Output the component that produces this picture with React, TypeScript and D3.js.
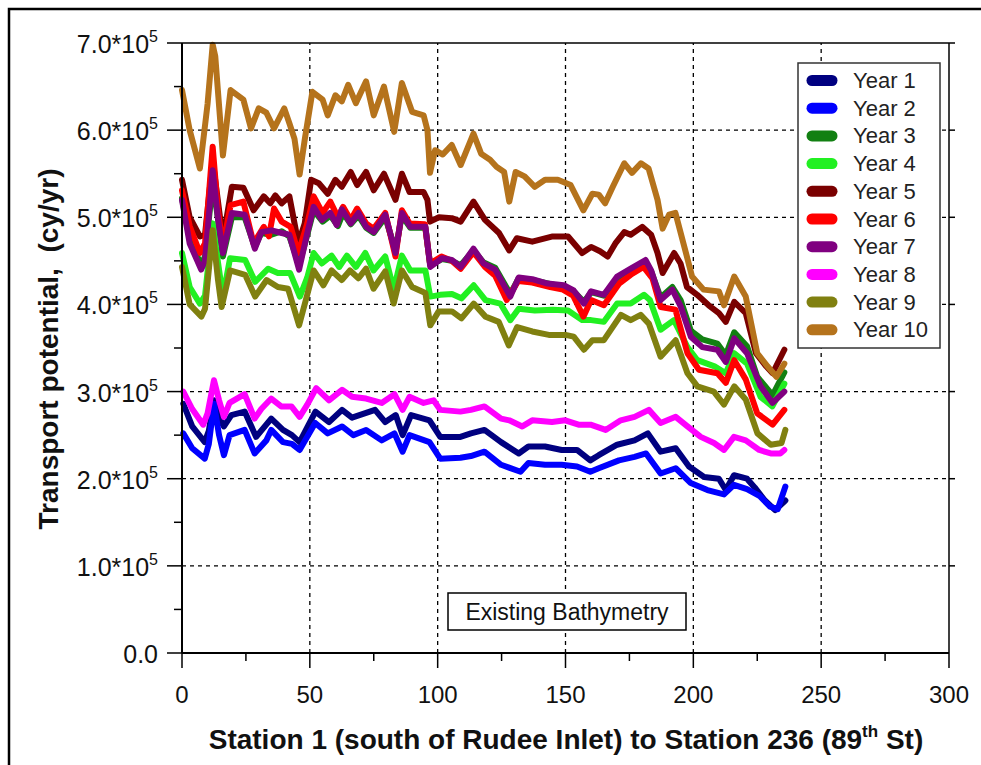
import React from "react";
import * as d3 from "d3";

const seriesNames = ["Year 1", "Year 2", "Year 3", "Year 4", "Year 5", "Year 6", "Year 7", "Year 8", "Year 9", "Year 10"];
const seriesColors = ["#000080", "#0000ff", "#128012", "#22f022", "#7a0000", "#ff0000", "#800080", "#ff00ff", "#808010", "#b5731c"];

const xTicks = [0, 50, 100, 150, 200, 250, 300];
const xMinorTicks = [25, 75, 125, 175, 225, 275];
const yTicks = [0, 1, 2, 3, 4, 5, 6, 7];
const yMinorTicks = [0.5, 1.5, 2.5, 3.5, 4.5, 5.5, 6.5];
const yTickLabels = ["0.0", "1.0*10", "2.0*10", "3.0*10", "4.0*10", "5.0*10", "6.0*10", "7.0*10"];

// values in units of 10^5 cy/yr, [station, value]
const year1: [number, number][] = [[0.5,2.86],[4,2.6],[8.9,2.42],[10.5,2.55],[12.5,2.9],[14.5,2.7],[16.4,2.6],[19.3,2.73],[24.5,2.77],[29,2.48],[34.9,2.69],[39.5,2.56],[43,2.5],[46,2.42],[52.2,2.77],[57.5,2.65],[62.6,2.79],[66.5,2.7],[75.5,2.79],[79.5,2.65],[83.6,2.73],[86.3,2.5],[89.6,2.73],[96.8,2.67],[101,2.48],[108.9,2.48],[113,2.52],[118.3,2.56],[124.8,2.42],[131.7,2.29],[135.5,2.37],[142,2.37],[148.5,2.33],[154.5,2.33],[159.7,2.21],[163,2.27],[170.2,2.39],[177,2.44],[182.2,2.52],[187.2,2.31],[193.1,2.35],[198.3,2.14],[204.2,2.02],[210,2.0],[212.7,1.87],[215.9,2.04],[221,2.0],[224,1.9],[228,1.75],[232,1.64],[236,1.75]];
const year2: [number, number][] = [[0.5,2.52],[4,2.35],[8.9,2.23],[10.5,2.4],[12.5,2.86],[14.5,2.5],[16.4,2.27],[18.6,2.5],[24.5,2.56],[28.4,2.29],[33,2.44],[34.9,2.56],[39.5,2.42],[43,2.4],[46,2.33],[52.1,2.64],[57,2.52],[62.6,2.6],[67,2.5],[72,2.56],[78.1,2.44],[83.1,2.52],[86.3,2.31],[89,2.5],[96.8,2.42],[101,2.23],[108.9,2.24],[113,2.26],[118.3,2.31],[124.8,2.16],[132.4,2.08],[135.5,2.18],[142,2.16],[148.5,2.16],[154.5,2.14],[159.7,2.08],[163,2.12],[170.9,2.21],[177,2.25],[181.5,2.29],[187.2,2.06],[193.1,2.12],[199,1.95],[205.5,1.87],[212,1.82],[215.9,1.93],[221,1.88],[226,1.8],[230,1.68],[233,1.65],[236,1.91]];
const year3: [number, number][] = [[0,5.22],[3,4.75],[7.5,4.45],[9,4.55],[12,5.4],[14,5.0],[16,4.55],[19.5,5.0],[24.5,5.0],[28.5,4.66],[31,4.82],[35,4.8],[39,4.84],[42,4.78],[45.8,4.45],[49,4.8],[51.5,5.08],[55,4.95],[58,5.02],[61,4.9],[63,5.05],[66,4.92],[69,5.02],[72,4.88],[75,4.82],[79.5,5.0],[83.5,4.62],[86,5.02],[89.3,4.88],[95.2,4.88],[97.1,4.45],[101.7,4.52],[105.5,4.5],[109,4.45],[114,4.62],[118,4.48],[122.5,4.42],[128.4,4.12],[131.7,4.3],[137,4.28],[143,4.24],[149.3,4.2],[153.2,4.15],[157.2,4.03],[160,4.14],[165,4.1],[170.2,4.3],[175.5,4.38],[181.3,4.48],[183.5,4.38],[187.2,4.08],[191.8,4.2],[195,4.05],[199,3.7],[203.5,3.6],[209.4,3.55],[212.7,3.42],[216,3.68],[221,3.52],[225,3.17],[231,2.96],[235.6,3.22]];
const year4: [number, number][] = [[0,4.59],[3,4.2],[7,4.01],[9,4.1],[12,4.93],[14,4.5],[16,4.09],[18.8,4.53],[24.7,4.51],[28.6,4.26],[33.7,4.41],[37.5,4.36],[42.3,4.36],[46.1,4.09],[49,4.31],[51.5,4.59],[54.7,4.47],[58.5,4.56],[61.5,4.43],[64.5,4.56],[68,4.43],[71.7,4.59],[74.9,4.39],[79.5,4.55],[82.8,4.17],[86,4.56],[89.3,4.39],[95.2,4.39],[97.1,4.09],[101,4.11],[105.6,4.12],[109.3,4.07],[114.1,4.22],[118.7,4.05],[124.5,4.01],[128.4,3.82],[131.7,3.95],[138,3.93],[145,3.94],[151,3.93],[156.5,3.82],[160,3.82],[165,3.8],[170.2,4.01],[175.5,4.01],[180.7,4.11],[183,4.05],[187.2,3.71],[192.4,3.82],[197.7,3.51],[201.6,3.36],[208.3,3.29],[212.7,3.21],[216,3.44],[221,3.32],[226.3,2.94],[230.9,2.83],[235.6,3.09]];
const year5: [number, number][] = [[0,5.43],[3,5.0],[7,4.78],[9,4.8],[12,5.65],[14,5.2],[16,4.74],[19.5,5.35],[24,5.34],[28,5.08],[32,5.24],[34.5,5.16],[36.5,5.25],[39,5.16],[42,5.24],[45.5,4.7],[48,4.93],[50.5,5.43],[53.5,5.39],[57,5.27],[60,5.43],[62.5,5.35],[66,5.52],[68.5,5.37],[72,5.52],[75,5.31],[79,5.5],[83.5,5.2],[86,5.5],[89,5.29],[94.5,5.29],[96,5.2],[97,4.95],[100.5,5.0],[105.5,4.99],[109,4.95],[114,5.18],[118.5,4.97],[124,4.82],[128,4.62],[131,4.76],[137,4.72],[145,4.78],[151,4.78],[156.5,4.59],[160,4.66],[163.5,4.61],[166.5,4.55],[169.5,4.7],[173,4.83],[175.5,4.8],[180,4.89],[183.5,4.8],[186,4.59],[188,4.36],[192.5,4.59],[195,4.47],[197.5,4.2],[201.5,4.11],[206,3.99],[210,3.9],[212.7,3.8],[216,4.03],[220.5,3.9],[224.5,3.44],[228.5,3.29],[231,3.21],[235.6,3.48]];
const year6: [number, number][] = [[0,5.31],[3,4.9],[7,4.59],[9,4.7],[12,5.81],[14,5.1],[16,4.66],[19,5.14],[24,5.18],[28,4.7],[32,4.89],[34,4.78],[36,5.1],[39,4.95],[42.5,4.89],[45.5,4.59],[49,4.93],[51.5,5.24],[55,5.05],[58,5.18],[61,5.0],[63,5.12],[66,4.97],[68.5,5.1],[72,4.93],[75,4.87],[79.5,5.05],[83.5,4.55],[86,5.08],[89,4.93],[95,4.92],[97,4.47],[101.5,4.55],[105.5,4.5],[109,4.41],[114,4.6],[118.5,4.43],[122.5,4.33],[127,4.05],[131.5,4.27],[137,4.25],[144,4.2],[149,4.17],[153,4.1],[157,3.86],[160,4.05],[165,3.99],[171,4.24],[175.5,4.34],[180.5,4.43],[184,4.3],[187.2,3.97],[193,3.94],[197.7,3.44],[202.2,3.25],[209.4,3.21],[212.7,3.1],[216,3.36],[220.5,3.14],[225,2.75],[231,2.62],[235.6,2.79]];
const year7: [number, number][] = [[0,5.2],[3,4.7],[7.5,4.4],[9,4.5],[12,5.54],[14,5.0],[16,4.59],[19.5,5.05],[24.5,5.03],[28.5,4.64],[31,4.83],[35,4.85],[39,4.82],[42,4.8],[45.8,4.4],[49,4.82],[51.5,5.12],[54.7,4.97],[58,5.05],[60.5,4.91],[62.5,5.09],[66,4.93],[69,5.05],[72,4.89],[75,4.83],[79.5,5.03],[83.5,4.59],[86,5.05],[89.3,4.89],[95.2,4.89],[97.1,4.43],[101.7,4.53],[105.5,4.51],[109,4.43],[114,4.64],[118,4.47],[122.5,4.4],[128.4,4.09],[131.7,4.31],[137,4.29],[143,4.24],[149.3,4.22],[153.2,4.16],[157.2,4.01],[160,4.15],[165,4.11],[170.2,4.32],[175.5,4.41],[181.3,4.51],[183.5,4.39],[187.2,4.05],[191.8,4.17],[195,3.98],[199,3.63],[203.5,3.51],[209.4,3.48],[212.7,3.34],[216,3.61],[221,3.44],[226.3,3.06],[231,2.87],[235.6,3.0]];
const year8: [number, number][] = [[0.5,3.0],[4,2.8],[8.3,2.62],[10,2.75],[12.5,3.13],[14.5,2.9],[16.4,2.71],[18.6,2.87],[24.5,2.97],[28.4,2.69],[31,2.8],[34.9,2.92],[38.8,2.83],[42.8,2.83],[46,2.71],[49,2.85],[52.5,3.04],[57.5,2.9],[62.6,3.02],[66.5,2.94],[72,2.92],[78.1,2.87],[83.1,2.97],[86.3,2.79],[89,2.94],[94.5,2.87],[98.4,2.9],[101,2.79],[108.9,2.77],[113,2.79],[118.3,2.83],[124.8,2.69],[128,2.67],[133.1,2.6],[137,2.67],[144.7,2.65],[149.9,2.67],[155.1,2.62],[159.8,2.62],[165.7,2.56],[171.6,2.67],[177,2.71],[182.6,2.79],[187.2,2.64],[193.1,2.71],[197.7,2.6],[202.9,2.48],[208.1,2.41],[212,2.33],[215.9,2.48],[220.5,2.44],[225.8,2.33],[230.3,2.29],[234,2.29],[235.6,2.33]];
const year9: [number, number][] = [[0,4.43],[3,4.0],[7.6,3.86],[9,3.95],[12,4.85],[14,4.3],[15.5,3.97],[18.8,4.39],[24.7,4.34],[28.6,4.09],[33.1,4.28],[37.5,4.2],[41.5,4.18],[45.8,3.76],[48.8,4.09],[51.5,4.39],[55.3,4.22],[58.5,4.39],[62.5,4.28],[65.7,4.39],[69,4.3],[72,4.41],[74.9,4.18],[79.5,4.38],[82.8,4.01],[86,4.39],[90,4.2],[95.2,4.13],[97.1,3.76],[100.4,3.92],[105.6,3.92],[109.3,3.84],[114.1,4.01],[118.7,3.86],[123.9,3.8],[127.8,3.53],[131.1,3.74],[137,3.69],[143.5,3.65],[150,3.65],[153.2,3.63],[157.2,3.48],[160.5,3.59],[165,3.59],[171.7,3.88],[175.5,3.82],[179.4,3.88],[182.6,3.78],[187.2,3.4],[193.1,3.59],[197.7,3.21],[201.6,3.06],[208,3.0],[212,2.85],[216,3.06],[220.5,2.91],[225.1,2.52],[230.3,2.39],[234.5,2.41],[236,2.56]];
const year10: [number, number][] = [[0,6.46],[3,6.0],[7,5.56],[10,6.3],[12,6.98],[13,6.85],[16,5.71],[19,6.46],[24,6.35],[27,6.02],[30,6.25],[33,6.2],[36,6.02],[40,6.25],[42,6.08],[44,5.9],[46,5.49],[48,5.89],[51,6.44],[55,6.35],[57,6.17],[60,6.4],[62.5,6.33],[65,6.52],[68,6.31],[72,6.56],[75,6.17],[79,6.5],[83,5.98],[86,6.54],[90,6.21],[94.5,6.17],[96,6.0],[97,5.51],[99,5.77],[102,5.72],[105.5,5.83],[109,5.6],[114,5.96],[117,5.73],[120.5,5.66],[123,5.58],[126,5.52],[128,5.18],[130.5,5.52],[134,5.47],[138,5.35],[142,5.43],[147,5.43],[152,5.37],[157,5.08],[160.5,5.27],[163,5.26],[165.5,5.16],[168.5,5.35],[173,5.62],[176,5.51],[179.5,5.62],[182.5,5.56],[186,5.2],[188,4.87],[190.5,5.03],[193,5.05],[196.5,4.66],[199.5,4.32],[204,4.17],[210,4.15],[212,3.99],[216,4.32],[220.5,4.09],[225,3.44],[229,3.29],[232.5,3.17],[235.6,3.32]];

const allSeries = [year1, year2, year3, year4, year5, year6, year7, year8, year9, year10];

const W = 981;
const H = 765;
const FONT = "'Liberation Sans', Arial, sans-serif";

export default function App() {
  const x = d3.scaleLinear().domain([0, 300]).range([182, 949]);
  const y = d3.scaleLinear().domain([0, 7]).range([653, 43]);
  const line = d3
    .line<[number, number]>()
    .x((d) => x(d[0]))
    .y((d) => y(d[1]));
  const [x0, x1] = x.range();
  const [y0, y1] = y.range();

  return (
    <svg
      width={W}
      height={H}
      viewBox={`0 0 ${W} ${H}`}
      style={{ position: "absolute", left: 0, top: 0, background: "#fff" }}
    >
      <rect x={0} y={0} width={W} height={H} fill="#fff" />
      {/* outer frame */}
      <rect x={9} y={9} width={W + 20} height={H + 20} fill="none" stroke="#000" strokeWidth={2.5} />

      {/* grid */}
      {yTicks.filter((t) => t > 0 && t < 7).map((t) => (
        <line key={"gy" + t} x1={x0} x2={x1} y1={y(t)} y2={y(t)} stroke="#000" strokeWidth={1.3} strokeDasharray="4,4" />
      ))}
      {xTicks.filter((t) => t > 0 && t < 300).map((t) => (
        <line key={"gx" + t} x1={x(t)} x2={x(t)} y1={y0} y2={y1} stroke="#000" strokeWidth={1.3} strokeDasharray="4,4" />
      ))}

      {/* series */}
      {allSeries.map((s, i) => (
        <path
          key={"s" + i}
          d={line(s) || ""}
          fill="none"
          stroke={seriesColors[i]}
          strokeWidth={6}
          strokeLinejoin="round"
          strokeLinecap="round"
        />
      ))}

      {/* frame of plot */}
      <line x1={x0} x2={x1} y1={y1} y2={y1} stroke="#000" strokeWidth={1.5} />
      <line x1={x1} x2={x1} y1={y1} y2={y0} stroke="#000" strokeWidth={1.5} />
      <line x1={x0} x2={x0} y1={y1} y2={y0} stroke="#000" strokeWidth={2} />
      <line x1={x0} x2={x1} y1={y0} y2={y0} stroke="#000" strokeWidth={2} />

      {/* y ticks */}
      {yTicks.map((t) => (
        <line key={"yt" + t} x1={x0 - 15} x2={x0} y1={y(t)} y2={y(t)} stroke="#000" strokeWidth={1.5} />
      ))}
      {yMinorTicks.map((t) => (
        <line key={"ym" + t} x1={x0 - 8} x2={x0} y1={y(t)} y2={y(t)} stroke="#000" strokeWidth={1.5} />
      ))}
      {yTicks.filter((t) => t > 0).map((t) => (
        <line key={"yr" + t} x1={x1} x2={x1 + 6} y1={y(t)} y2={y(t)} stroke="#000" strokeWidth={1.5} />
      ))}
      {yTicks.map((t, i) => (
        <text key={"yl" + t} x={158} y={y(t) + 10} textAnchor="end" fontFamily={FONT} fontSize={25} fill="#111">
          {yTickLabels[i]}
          {t > 0 ? (
            <tspan fontSize={16} dy={-11}>5</tspan>
          ) : null}
        </text>
      ))}

      {/* x ticks */}
      {xTicks.map((t) => (
        <line key={"xt" + t} x1={x(t)} x2={x(t)} y1={y0} y2={y0 + 15} stroke="#000" strokeWidth={1.5} />
      ))}
      {xMinorTicks.map((t) => (
        <line key={"xm" + t} x1={x(t)} x2={x(t)} y1={y0} y2={y0 + 8} stroke="#000" strokeWidth={1.5} />
      ))}
      {xTicks.map((t) => (
        <text key={"xl" + t} x={x(t)} y={703} textAnchor="middle" fontFamily={FONT} fontSize={24} fill="#111">
          {t}
        </text>
      ))}

      {/* axis titles */}
      <text
        transform={`translate(58,349) rotate(-90)`}
        textAnchor="middle"
        fontFamily={FONT}
        fontWeight="bold"
        fontSize={28}
        fill="#111"
        style={{ whiteSpace: "pre" }}
      >
        {"Transport potential,  (cy/yr)"}
      </text>
      <text x={566} y={749} textAnchor="middle" fontFamily={FONT} fontWeight="bold" fontSize={28} fill="#111">
        Station 1 (south of Rudee Inlet) to Station 236 (89
        <tspan fontSize={17} dy={-12}>th</tspan>
        <tspan dy={12}> St)</tspan>
      </text>

      {/* legend */}
      <rect x={798} y={63} width={142} height={285} fill="#fff" stroke="#333" strokeWidth={1.5} />
      {seriesNames.map((n, i) => {
        const cy = 80.5 + 27.7 * i;
        return (
          <g key={"lg" + i}>
            <line x1={812} x2={832} y1={cy} y2={cy} stroke={seriesColors[i]} strokeWidth={11} strokeLinecap="round" />
            <text x={853} y={cy + 7.5} fontFamily={FONT} fontSize={22} fill="#222">
              {n}
            </text>
          </g>
        );
      })}

      {/* annotation */}
      <rect x={448} y={593} width={238} height={37} fill="#fff" stroke="#000" strokeWidth={1.5} />
      <text x={567} y={620} textAnchor="middle" fontFamily={FONT} fontSize={23} fill="#111">
        Existing Bathymetry
      </text>
    </svg>
  );
}
